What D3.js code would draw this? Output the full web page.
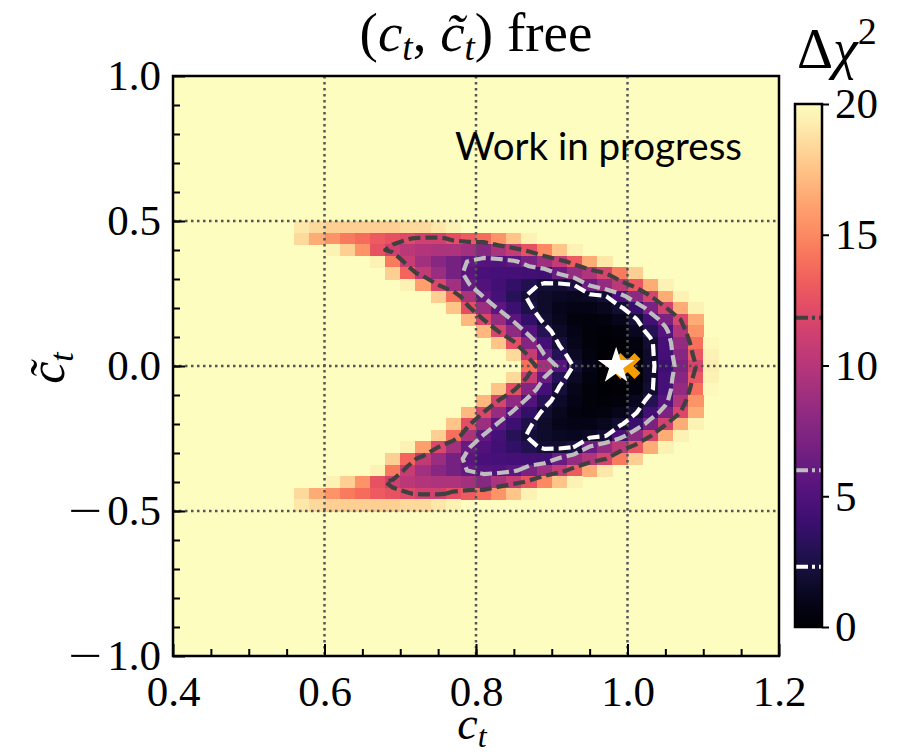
<!DOCTYPE html>
<html>
<head>
<meta charset="utf-8">
<script src="https://cdn.jsdelivr.net/npm/d3@7"></script>
<style>
  body { margin: 0; background: #fff; }
  svg { display: block; }
</style>
</head>
<body>
<svg id="chart"></svg>
<script>
(function () {
  // Data
  var ctCenters = [0.55, 0.57, 0.59, 0.61, 0.63, 0.65, 0.67, 0.69, 0.71, 0.73, 0.75, 0.77, 0.79, 0.81, 0.83,
    0.85, 0.87, 0.89, 0.91, 0.93, 0.95, 0.97, 0.99, 1.01, 1.03, 1.05, 1.07, 1.09, 1.11]
  var ctildeCenters = [0.48, 0.44, 0.40, 0.36, 0.32, 0.28, 0.24, 0.20, 0.16, 0.12, 0.08, 0.04, 0.00,
    -0.04, -0.08, -0.12, -0.16, -0.20, -0.24, -0.28, -0.32, -0.36, -0.40, -0.44, -0.48]
  // one row per ctilde value, one entry per ct value; everything outside is >= 20
  var dchi2 = [
    [20, 19, 18.5, 18, 18, 18, 18, 18, 18.5, 18.5, 19, 19.5, 20, 20, 20, 20, 20, 20, 20, 20, 20, 20, 20, 20, 20, 20, 20, 20, 20],
    [20, 18.5, 16.5, 15.5, 14.5, 13.8, 13, 12.5, 12, 11.3, 11.3, 12.3, 13, 13.8, 15.5, 17.5, 19.5, 20, 20, 20, 20, 20, 20, 20, 20, 20, 20, 20, 20],
    [20, 20, 20, 19.5, 18, 15.5, 12.5, 11.2, 10.2, 9.8, 9.6, 9.6, 9.1, 7.7, 9.4, 10.7, 12.5, 15, 17.5, 19.5, 20, 20, 20, 20, 20, 20, 20, 20, 20],
    [20, 20, 20, 20, 20, 20, 19.5, 14.5, 10.8, 9, 7.8, 6.8, 5.9, 5.2, 5, 5.6, 7.1, 8.9, 10.7, 13, 16.5, 19, 20, 20, 20, 20, 20, 20, 20],
    [20, 20, 20, 20, 20, 20, 20, 18, 13.5, 10.5, 8.6, 6.8, 5.5, 4.7, 4.5, 4.4, 4.3, 4.2, 6.3, 8.4, 9.7, 11.6, 14.5, 18, 20, 20, 20, 20, 20],
    [20, 20, 20, 20, 20, 20, 20, 20, 19.5, 16, 11.8, 9, 6.1, 5, 4.3, 3.6, 2.8, 2.0, 1.8, 2.35, 6.3, 8.3, 10.3, 12.8, 16.5, 19.5, 20, 20, 20],
    [20, 20, 20, 20, 20, 20, 20, 20, 20, 20, 18, 14, 9.5, 5.8, 4.5, 3.1, 2.1, 1.6, 1.3, 1.2, 1.4, 2.0, 4.7, 8, 11.5, 16.5, 19.5, 20, 20],
    [20, 20, 20, 20, 20, 20, 20, 20, 20, 20, 20, 17.5, 12.3, 8.7, 5.6, 4.1, 2.5, 1.6, 1.0, 0.8, 0.8, 1.1, 1.9, 3.9, 7.1, 11.4, 16.5, 19.5, 20],
    [20, 20, 20, 20, 20, 20, 20, 20, 20, 20, 20, 20, 17, 11.8, 8.5, 5.5, 3.6, 1.9, 1.1, 0.6, 0.5, 0.6, 1.0, 2.0, 4.3, 7.2, 11.8, 16.5, 20],
    [20, 20, 20, 20, 20, 20, 20, 20, 20, 20, 20, 20, 20, 17, 11.6, 8.1, 5.1, 3.0, 1.5, 0.8, 0.4, 0.3, 0.5, 1.2, 2.9, 5.2, 9.8, 15.5, 20],
    [20, 20, 20, 20, 20, 20, 20, 20, 20, 20, 20, 20, 20, 20, 17.5, 12.3, 7.6, 4.4, 2.1, 1.0, 0.4, 0.15, 0.2, 0.6, 1.8, 4.6, 8.3, 14, 19.8],
    [20, 20, 20, 20, 20, 20, 20, 20, 20, 20, 20, 20, 20, 20, 20, 18.5, 10.8, 6.0, 3.0, 1.4, 0.6, 0.15, 0.05, 0.4, 1.7, 4.4, 7.8, 12.8, 19.5],
    [20, 20, 20, 20, 20, 20, 20, 20, 20, 20, 20, 20, 20, 20, 20, 20, 14, 9.2, 5.2, 2.0, 0.8, 0.15, 0, 0.3, 1.6, 4.1, 7.2, 11.7, 19.3],
    [20, 20, 20, 20, 20, 20, 20, 20, 20, 20, 20, 20, 20, 20, 20, 18.5, 10.8, 6.0, 3.0, 1.4, 0.6, 0.15, 0.05, 0.4, 1.7, 4.4, 7.8, 12.8, 19.5],
    [20, 20, 20, 20, 20, 20, 20, 20, 20, 20, 20, 20, 20, 20, 17.5, 12.3, 7.6, 4.4, 2.1, 1.0, 0.4, 0.15, 0.2, 0.6, 1.8, 4.6, 8.3, 14, 19.8],
    [20, 20, 20, 20, 20, 20, 20, 20, 20, 20, 20, 20, 20, 17, 11.6, 8.1, 5.1, 3.0, 1.5, 0.8, 0.4, 0.3, 0.5, 1.2, 2.9, 5.2, 9.8, 15.5, 20],
    [20, 20, 20, 20, 20, 20, 20, 20, 20, 20, 20, 20, 17, 11.8, 8.5, 5.5, 3.6, 1.9, 1.1, 0.6, 0.5, 0.6, 1.0, 2.0, 4.3, 7.2, 11.8, 16.5, 20],
    [20, 20, 20, 20, 20, 20, 20, 20, 20, 20, 20, 17.5, 12.3, 8.7, 5.6, 4.1, 2.5, 1.6, 1.0, 0.8, 0.8, 1.1, 1.9, 3.9, 7.1, 11.4, 16.5, 19.5, 20],
    [20, 20, 20, 20, 20, 20, 20, 20, 20, 20, 18, 14, 9.5, 5.8, 4.5, 3.1, 2.1, 1.6, 1.3, 1.2, 1.4, 2.0, 4.7, 8, 11.5, 16.5, 19.5, 20, 20],
    [20, 20, 20, 20, 20, 20, 20, 20, 19.5, 16, 11.8, 9, 6.1, 5, 4.3, 3.6, 2.8, 2.0, 1.8, 2.35, 6.3, 8.3, 10.3, 12.8, 16.5, 19.5, 20, 20, 20],
    [20, 20, 20, 20, 20, 20, 20, 18, 13.5, 10.5, 8.6, 6.8, 5.5, 4.7, 4.5, 4.4, 4.3, 4.2, 6.3, 8.4, 9.7, 11.6, 14.5, 18, 20, 20, 20, 20, 20],
    [20, 20, 20, 20, 20, 20, 19.5, 14.5, 10.8, 9, 7.8, 6.8, 5.9, 5.2, 5, 5.6, 7.1, 8.9, 10.7, 13, 16.5, 19, 20, 20, 20, 20, 20, 20, 20],
    [20, 20, 20, 19.5, 18, 15.5, 12.5, 11.2, 10.2, 9.8, 9.6, 9.6, 9.1, 7.7, 9.4, 10.7, 12.5, 15, 17.5, 19.5, 20, 20, 20, 20, 20, 20, 20, 20, 20],
    [20, 18.5, 16.5, 15.5, 14.5, 13.8, 13, 12.5, 12, 11.3, 11.3, 12.3, 13, 13.8, 15.5, 17.5, 19.5, 20, 20, 20, 20, 20, 20, 20, 20, 20, 20, 20, 20],
    [20, 19, 18.5, 18, 18, 18, 18, 18, 18.5, 18.5, 19, 19.5, 20, 20, 20, 20, 20, 20, 20, 20, 20, 20, 20, 20, 20, 20, 20, 20, 20]
  ]
  var contourLevels = [2.3, 5.99, 11.83]
  var contourColors = ['#ffffff', '#bebebe', '#404040']
  var bestFit = [0.985, 0.0]
  var smPoint = [1.0, 0.0]
  var xTicks = [0.4, 0.6, 0.8, 1.0, 1.2]
  var yTicks = [-1.0, -0.5, 0.0, 0.5, 1.0]
  var cbarTicks = [0, 5, 10, 15, 20]
  var VMAX = 20

  // Layout
  var WIDTH = 897
  var HEIGHT = 755
  var PLOT = { left: 173, right: 779, top: 76, bottom: 656 }
  var CBAR = { left: 795, right: 822, top: 104, bottom: 627 }
  var SERIF = '"Liberation Serif", "DejaVu Serif", serif'
  var TICK_FONT = 43

  var svg = d3.select('#chart')
    .attr('width', WIDTH)
    .attr('height', HEIGHT)

  var x = d3.scaleLinear().domain([0.4, 1.2]).range([PLOT.left, PLOT.right])
  var y = d3.scaleLinear().domain([-1, 1]).range([PLOT.bottom, PLOT.top])
  var color = d3.scaleSequential(d3.interpolateMagma).domain([0, VMAX]).clamp(true)

  svg.append('clipPath').attr('id', 'plot-clip')
    .append('rect')
    .attr('x', PLOT.left).attr('y', PLOT.top)
    .attr('width', PLOT.right - PLOT.left).attr('height', PLOT.bottom - PLOT.top)

  var plot = svg.append('g').attr('clip-path', 'url(#plot-clip)')

  // Saturated background (Δχ² >= 20)
  plot.append('rect')
    .attr('x', PLOT.left).attr('y', PLOT.top)
    .attr('width', PLOT.right - PLOT.left).attr('height', PLOT.bottom - PLOT.top)
    .attr('fill', color(VMAX))

  // Heat map cells
  var dx = ctCenters[1] - ctCenters[0]
  var dy = ctildeCenters[0] - ctildeCenters[1]
  var cells = []
  dchi2.forEach(function (row, j) {
    row.forEach(function (v, i) {
      cells.push({ ct: ctCenters[i], ctl: ctildeCenters[j], v: v })
    })
  })
  plot.append('g')
    .classed('cells', true)
    .selectAll('rect')
    .data(cells.filter(function (d) { return d.v < VMAX }))
    .enter().append('rect')
    .attr('x', function (d) { return x(d.ct - dx / 2) })
    .attr('y', function (d) { return y(d.ctl + dy / 2) })
    .attr('width', x(dx) - x(0) + 0.6)
    .attr('height', y(0) - y(dy) + 0.6)
    .attr('fill', function (d) { return color(d.v) })
    .attr('shape-rendering', 'crispEdges')

  // Grid
  var grid = plot.append('g').classed('grid', true)
  grid.selectAll('line.gx')
    .data(xTicks.slice(1, -1))
    .enter().append('line')
    .attr('x1', function (d) { return x(d) }).attr('x2', function (d) { return x(d) })
    .attr('y1', PLOT.top).attr('y2', PLOT.bottom)
  grid.selectAll('line.gy')
    .data(yTicks.slice(1, -1))
    .enter().append('line')
    .attr('y1', function (d) { return y(d) }).attr('y2', function (d) { return y(d) })
    .attr('x1', PLOT.left).attr('x2', PLOT.right)
  grid.selectAll('line')
    .attr('stroke', '#555')
    .attr('stroke-width', 2.5)
    .attr('stroke-dasharray', '2.5,3.5')

  // Contours (on -Δχ² so each region is the closed low-Δχ² crescent)
  var nCols = ctCenters.length
  var nRows = ctildeCenters.length
  var flat = []
  dchi2.forEach(function (row) { row.forEach(function (v) { flat.push(-v) }) })
  var ctEdge = ctCenters[0] - dx / 2
  var ctlEdge = ctildeCenters[0] + dy / 2
  var gridToPx = d3.geoTransform({
    point: function (gx, gy) {
      this.stream.point(x(ctEdge + gx * dx), y(ctlEdge - gy * dy))
    }
  })
  var path = d3.geoPath(gridToPx)
  var contours = d3.contours()
    .size([nCols, nRows])
    .thresholds(contourLevels.map(function (l) { return -l }))(flat)

  plot.append('g')
    .classed('contours', true)
    .selectAll('path')
    .data(contours)
    .enter().append('path')
    .attr('d', path)
    .attr('fill', 'none')
    .attr('stroke', function (d) { return contourColors[contourLevels.indexOf(-d.value)] })
    .attr('stroke-width', 4.2)
    .attr('stroke-dasharray', '12,5')
    .attr('stroke-linejoin', 'round')

  // Markers: SM point (orange X) and best fit (white star)
  var xPath = 'M-13,-7 L-7,-13 L0,-6 L7,-13 L13,-7 L6,0 L13,7 L7,13 L0,6 L-7,13 L-13,7 L-6,0 Z'
  plot.append('path')
    .attr('d', xPath)
    .attr('transform', 'translate(' + x(smPoint[0]) + ',' + y(smPoint[1]) + ')')
    .attr('fill', '#f59d00')
  plot.append('path')
    .attr('d', d3.symbol().type(d3.symbolStar).size(420)())
    .attr('transform', 'translate(' + x(bestFit[0]) + ',' + y(bestFit[1]) + ')')
    .attr('fill', '#ffffff')

  // "Work in progress"
  var wip = svg.append('text')
    .attr('x', 455).attr('y', 160)
    .attr('font-family', 'Lato, "Open Sans", sans-serif')
    .attr('font-size', 37)
    .attr('fill', '#000')
    .text('Work in progress')
  var wipLen = wip.node().getComputedTextLength()
  if (wipLen > 0) wip.attr('font-size', 37 * 287 / wipLen)

  // Axes
  var fmt = d3.format('.1f')
  function styleAxis (g) {
    g.select('.domain').remove()
    g.selectAll('line').attr('stroke', '#000').attr('stroke-width', 2)
    g.selectAll('text').attr('font-family', SERIF).attr('font-size', TICK_FONT).attr('fill', '#000')
  }
  // longer minus sign, as in the LaTeX labels
  function widenMinus (g) {
    g.selectAll('.tick text').each(function () {
      var t = d3.select(this)
      var s = t.text()
      if (s.charAt(0) !== '\u2212') return
      t.text(null)
      t.append('tspan')
        .attr('textLength', 34)
        .attr('lengthAdjust', 'spacingAndGlyphs')
        .text('\u2212')
      t.append('tspan').attr('dx', 5).text(s.slice(1))
    })
  }
  svg.append('g')
    .attr('transform', 'translate(0,' + PLOT.bottom + ')')
    .call(d3.axisBottom(x).tickValues(d3.range(0.45, 1.2, 0.05)).tickSize(-7).tickFormat(''))
    .call(styleAxis)
  svg.append('g')
    .attr('transform', 'translate(0,' + PLOT.bottom + ')')
    .call(d3.axisBottom(x).tickValues(xTicks).tickSize(-12).tickPadding(19).tickFormat(fmt))
    .call(styleAxis)
  svg.append('g')
    .attr('transform', 'translate(' + PLOT.left + ',0)')
    .call(d3.axisLeft(y).tickValues(d3.range(-0.9, 1, 0.1)).tickSize(-7).tickFormat(''))
    .call(styleAxis)
  svg.append('g')
    .attr('transform', 'translate(' + PLOT.left + ',0)')
    .call(d3.axisLeft(y).tickValues(yTicks).tickSize(-12).tickPadding(12).tickFormat(fmt))
    .call(styleAxis)
    .call(widenMinus)

  // Frame
  svg.append('rect')
    .attr('x', PLOT.left).attr('y', PLOT.top)
    .attr('width', PLOT.right - PLOT.left).attr('height', PLOT.bottom - PLOT.top)
    .attr('fill', 'none').attr('stroke', '#000').attr('stroke-width', 2.5)

  // Axis labels and title
  var xl = svg.append('text')
    .attr('x', (PLOT.left + PLOT.right) / 2 - 4).attr('y', 739)
    .attr('text-anchor', 'middle')
    .attr('font-family', SERIF).attr('font-size', 46)
  xl.append('tspan').attr('font-style', 'italic').text('c')
  xl.append('tspan').attr('font-style', 'italic').attr('font-size', 32).attr('dy', 8).text('t')

  var yl = svg.append('text')
    .attr('transform', 'translate(64,' + (y(0) + 2) + ') rotate(-90)')
    .attr('text-anchor', 'middle')
    .attr('font-family', SERIF).attr('font-size', 50)
  yl.append('tspan').attr('font-style', 'italic').text('c\u0303')
  yl.append('tspan').attr('font-style', 'italic').attr('font-size', 34).attr('dy', 9).text('t')

  var title = svg.append('text')
    .attr('x', (PLOT.left + PLOT.right) / 2).attr('y', 51)
    .attr('text-anchor', 'middle')
    .attr('font-family', SERIF).attr('font-size', 55)
  title.append('tspan').text('(')
  title.append('tspan').attr('font-style', 'italic').text('c')
  title.append('tspan').attr('font-style', 'italic').attr('font-size', 37).attr('dy', 9).text('t')
  title.append('tspan').attr('dy', -9).text(', ')
  title.append('tspan').attr('font-style', 'italic').text('c\u0303')
  title.append('tspan').attr('font-style', 'italic').attr('font-size', 37).attr('dy', 9).text('t')
  title.append('tspan').attr('dy', -9).text(') free')

  // Colour bar
  var cScale = d3.scaleLinear().domain([0, VMAX]).range([CBAR.bottom, CBAR.top])
  var grad = svg.append('defs').append('linearGradient')
    .attr('id', 'cbar-grad')
    .attr('x1', 0).attr('y1', 1).attr('x2', 0).attr('y2', 0)
  grad.selectAll('stop')
    .data(d3.range(0, 1.0001, 0.05))
    .enter().append('stop')
    .attr('offset', function (t) { return t })
    .attr('stop-color', function (t) { return color(t * VMAX) })
  svg.append('rect')
    .attr('x', CBAR.left).attr('y', CBAR.top)
    .attr('width', CBAR.right - CBAR.left).attr('height', CBAR.bottom - CBAR.top)
    .attr('fill', 'url(#cbar-grad)')
  svg.append('g')
    .selectAll('line')
    .data(contourLevels)
    .enter().append('line')
    .attr('x1', CBAR.left).attr('x2', CBAR.right)
    .attr('y1', function (d) { return cScale(d) }).attr('y2', function (d) { return cScale(d) })
    .attr('stroke', function (d, i) { return contourColors[i] })
    .attr('stroke-width', 4)
    .attr('stroke-dasharray', '13,4,3,4')
  svg.append('rect')
    .attr('x', CBAR.left).attr('y', CBAR.top)
    .attr('width', CBAR.right - CBAR.left).attr('height', CBAR.bottom - CBAR.top)
    .attr('fill', 'none').attr('stroke', '#000').attr('stroke-width', 2.5)
  svg.append('g')
    .attr('transform', 'translate(' + CBAR.right + ',0)')
    .call(d3.axisRight(cScale).tickValues(cbarTicks).tickSize(7).tickPadding(6))
    .call(styleAxis)

  var cl = svg.append('text')
    .attr('x', 797).attr('y', 68)
    .attr('font-family', SERIF).attr('font-size', 56)
  cl.append('tspan').text('\u0394')
  cl.append('tspan').attr('font-style', 'italic').text('\u03c7')
  cl.append('tspan').attr('font-size', 38).attr('dy', -24).text('2')
})()
</script>
</body>
</html>
